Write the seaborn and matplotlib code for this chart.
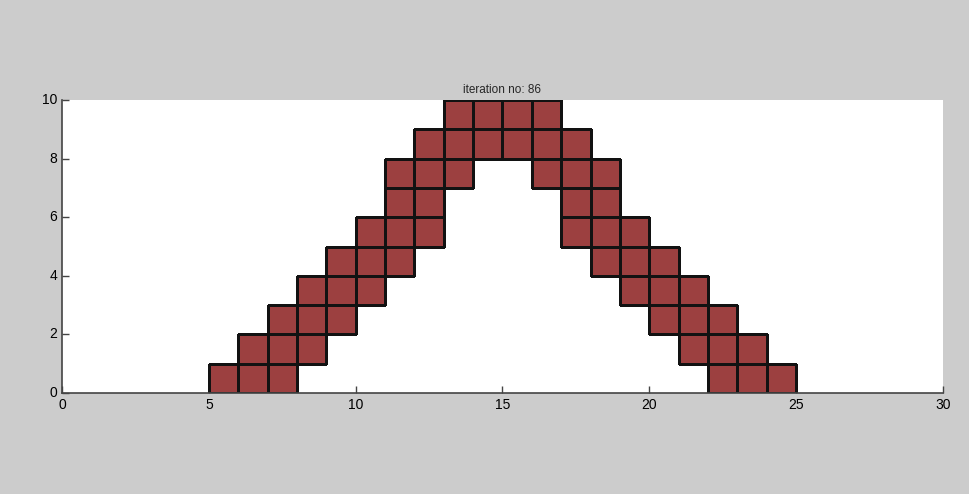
import numpy as np
import pandas as pd
import matplotlib
matplotlib.use("Agg")
import matplotlib.pyplot as plt
from matplotlib.colors import ListedColormap
import seaborn as sns

# cell columns: left edge, lowest filled row, top of the stack
col_left = [5, 6, 7, 8, 9, 10, 11, 12, 13, 14, 15, 16, 17, 18, 19, 20, 21, 22, 23, 24]
col_bottom = [0, 0, 0, 1, 2, 3, 4, 5, 7, 8, 8, 7, 5, 4, 3, 2, 1, 0, 0, 0]
col_top = [1, 2, 3, 4, 5, 6, 8, 9, 10, 10, 10, 10, 9, 8, 6, 5, 4, 3, 2, 1]
n_cols = 30
n_rows = 10
iteration = 86
x_ticks = [0, 5, 10, 15, 20, 25, 30]
y_ticks = [0, 2, 4, 6, 8, 10]

grid = np.full((n_rows, n_cols), np.nan)
for x, b, t in zip(col_left, col_bottom, col_top):
    grid[b:t, x] = 1
grid = pd.DataFrame(grid)

sns.set_style("white")
plt.rcParams['font.family'] = ['Liberation Sans', 'DejaVu Sans']

fig = plt.figure(figsize=(9.69, 4.94), dpi=100, facecolor='#cccccc')
ax = fig.add_axes([0.064, 0.2045, 0.909, 0.593])
sns.heatmap(grid, mask=grid.isna(), cmap=ListedColormap(['#9c4040']), cbar=False,
            linewidths=0.85, linecolor='#111111', ax=ax)

# only outline the filled cells
mesh = ax.collections[0]
filled = grid.notna().values.ravel()
mesh.set_edgecolor([(0.07, 0.07, 0.07, 1) if f else (0, 0, 0, 0) for f in filled])
mesh.set_linewidth(0.85)

ax.set_xlim(0, n_cols)
ax.set_ylim(0, n_rows)
ax.set_xticks(x_ticks)
ax.set_xticklabels([str(v) for v in x_ticks], rotation=0)
ax.set_yticks(y_ticks)
ax.set_yticklabels([str(v) for v in y_ticks], rotation=0)
ax.set_xlabel("")
ax.set_ylabel("")
ax.set_facecolor('white')
for s in ['left', 'bottom']:
    ax.spines[s].set_visible(True)
    ax.spines[s].set_color('#444444')
    ax.spines[s].set_linewidth(1.2)
for s in ['top', 'right']:
    ax.spines[s].set_visible(False)
ax.tick_params(direction='in', length=5, width=1, colors='#444444', labelcolor='black',
               labelsize=10, left=True, bottom=True)
ax.set_title(f"iteration no: {iteration}", fontsize=8.5, pad=5)

fig.savefig("out.png", dpi=100, facecolor=fig.get_facecolor())
